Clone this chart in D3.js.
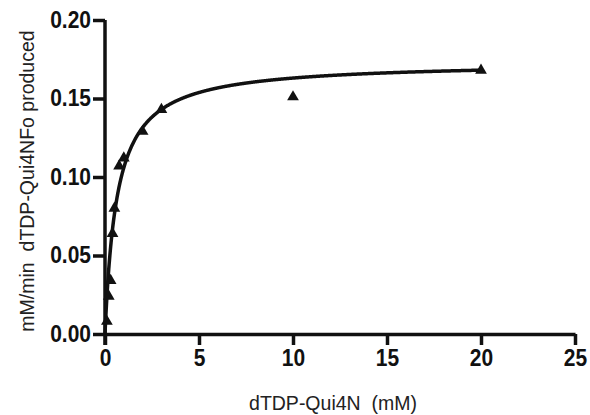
<!DOCTYPE html>
<meta charset="utf-8">
<head>
  <style>
    body { margin: 0; background: #fff; }
    svg { display: block; }
    text { font-family: "Liberation Sans", Arial, sans-serif; fill: #111; }
    .tick text { font-weight: bold; font-size: 21px; }
    .axis path, .axis line { stroke: #111; stroke-width: 3.5px; }
    .title { font-size: 19.5px; fill: #222; white-space: pre; }
  </style>
  <script src="https://cdn.jsdelivr.net/npm/d3@7"></script>
</head>
<body>
<script>
  // substrate concentration (mM) and rate (mM/min)
  const conc = [0.1, 0.2, 0.3, 0.4, 0.5, 0.75, 1, 2, 3, 10, 20]
  const rate = [0.008, 0.024, 0.034, 0.064, 0.080, 0.107, 0.112, 0.129, 0.143, 0.151, 0.168]
  const xTicks = [0, 5, 10, 15, 20, 25]
  const yTicks = [0, 0.05, 0.10, 0.15, 0.20]
  // Michaelis-Menten fit
  const vmax = 0.1734
  const km = 0.637

  const width = 590
  const height = 415
  const margin = { top: 20, right: 15, bottom: 81, left: 105 }
  const innerWidth = width - margin.left - margin.right
  const innerHeight = height - margin.top - margin.bottom

  const x = d3.scaleLinear().domain([0, 25]).range([0, innerWidth])
  const y = d3.scaleLinear().domain([0, 0.20]).range([innerHeight, 0])

  const svg = d3.select("body").append("svg")
    .attr("width", width)
    .attr("height", height)

  const g = svg.append("g")
    .attr("transform", "translate(" + margin.left + "," + margin.top + ")")

  const xAxis = g.append("g")
    .attr("class", "axis")
    .attr("transform", "translate(0," + innerHeight + ")")
    .call(d3.axisBottom(x).tickValues(xTicks).tickSize(11).tickSizeOuter(0).tickPadding(4))
  xAxis.selectAll(".tick text").attr("transform", "scale(1,1.15)").attr("dy", "0.62em")

  const yAxis = g.append("g")
    .attr("class", "axis")
    .call(d3.axisLeft(y).tickValues(yTicks).tickSize(12).tickSizeOuter(0).tickPadding(2)
      .tickFormat(d3.format(".2f")))
  yAxis.selectAll(".tick text").attr("transform", "scale(1,1.15)").attr("dy", "0.3em")
  yAxis.select(".domain").attr("d", "M0," + (innerHeight + 11) + "V0")

  // fitted curve
  const fit = d3.range(0, 20.01, 0.02).map(s => [s, vmax * s / (km + s)])
  g.append("path")
    .datum(fit)
    .attr("fill", "none")
    .attr("stroke", "#111")
    .attr("stroke-width", 3.5)
    .attr("d", d3.line().x(d => x(d[0])).y(d => y(d[1])))

  // data points
  g.selectAll(".pt")
    .data(conc)
    .enter()
    .append("path")
    .attr("class", "pt")
    .attr("fill", "#111")
    .attr("transform", (d, i) => "translate(" + x(d) + "," + y(rate[i]) + ")")
    .attr("d", d3.symbol().type(d3.symbolTriangle).size(60))

  svg.append("text")
    .attr("class", "title")
    .attr("x", 333)
    .attr("y", 410)
    .attr("text-anchor", "middle")
    .text("dTDP-Qui4N  (mM)")

  svg.append("text")
    .attr("class", "title")
    .attr("transform", "translate(34,181) rotate(-90)")
    .attr("text-anchor", "middle")
    .text("mM/min  dTDP-Qui4NFo produced")
</script>
</body>
